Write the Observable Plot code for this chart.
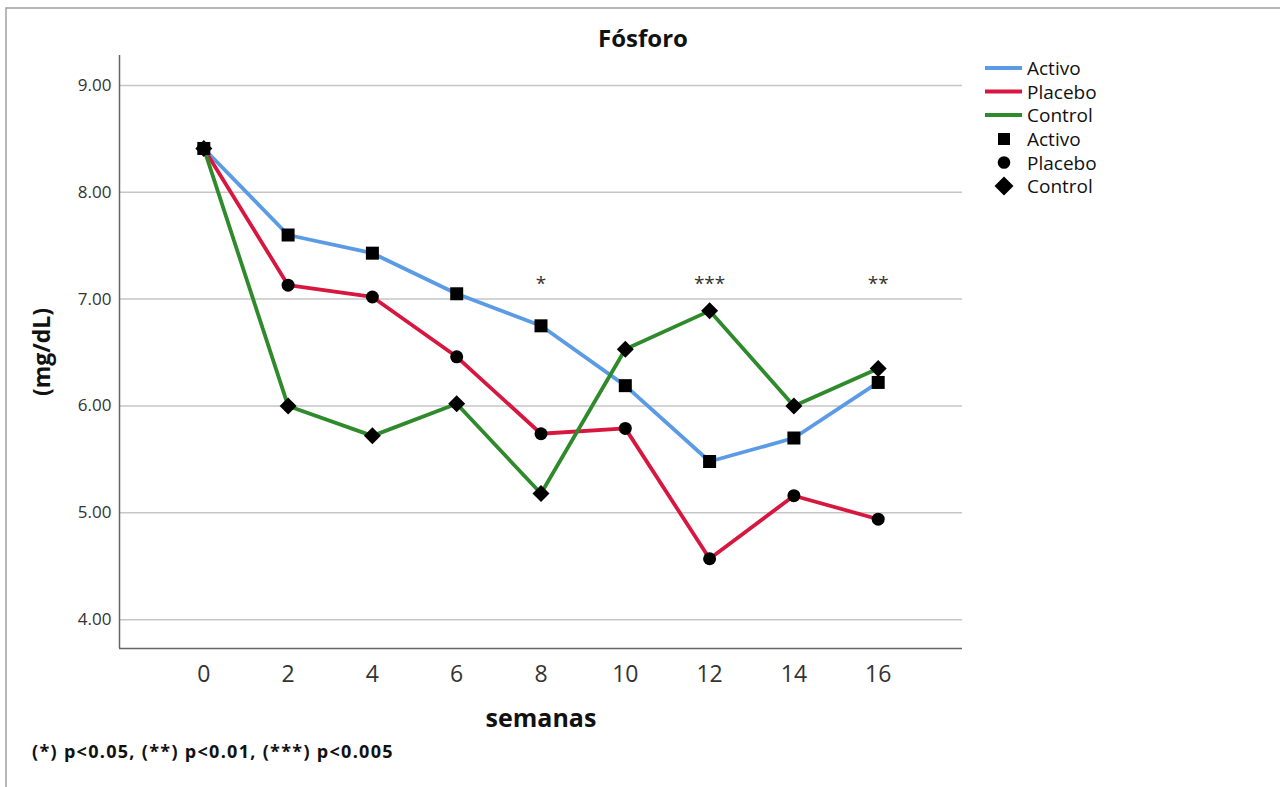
<!DOCTYPE html>
<html>
<head>
<meta charset="utf-8">
<script src="https://cdn.jsdelivr.net/npm/d3@7"></script>
<script src="https://cdn.jsdelivr.net/npm/@observablehq/plot@0.6"></script>
<style>
  body { margin: 0; background: #fff; }
  #fig { position: relative; width: 1280px; height: 787px; overflow: hidden; font-family: "Open Sans", sans-serif; }
  #fig svg { position: absolute; left: 0; top: 0; }
</style>
</head>
<body>
<div id="fig"></div>
<script>
// Serum phosphorus (mg/dL) by week for each study group
const weeks = [0, 2, 4, 6, 8, 10, 12, 14, 16];
const activo = [8.41, 7.60, 7.43, 7.05, 6.75, 6.19, 5.48, 5.70, 6.22];
const placebo = [8.41, 7.13, 7.02, 6.46, 5.74, 5.79, 4.57, 5.16, 4.94];
const control = [8.41, 6.00, 5.72, 6.02, 5.18, 6.53, 6.89, 6.00, 6.35];
const significance = ["", "", "", "", "*", "", "***", "", "**"];
const yTicks = [4, 5, 6, 7, 8, 9];
const groups = ["Activo", "Placebo", "Control"];
const colors = ["#5b9be6", "#d7173f", "#2f8a2c"];
const xDomain = [-2, 18];
const yDomain = [3.73, 9.28];
const sigLevel = 7.14;

const rows = weeks.map((w, i) => ({
  week: w, activo: activo[i], placebo: placebo[i], control: control[i], sig: significance[i]
}));

// marker shapes: r is half the side (square) or half the diagonal (diamond)
const squareSym = { draw(ctx, size) { const r = Math.sqrt(size / Math.PI); ctx.rect(-r, -r, 2 * r, 2 * r); } };
const diamondSym = { draw(ctx, size) {
  const r = Math.sqrt(size / Math.PI);
  ctx.moveTo(0, -r); ctx.lineTo(r, 0); ctx.lineTo(0, r); ctx.lineTo(-r, 0); ctx.closePath();
} };

const W = 1280, H = 787;
const chart = Plot.plot({
  width: W, height: H,
  marginLeft: 119, marginRight: 318, marginTop: 55, marginBottom: 139,
  style: { fontFamily: '"Open Sans", sans-serif', background: "transparent", color: "#333", overflow: "visible" },
  x: { domain: xDomain },
  y: { domain: yDomain },
  marks: [
    Plot.gridY(yTicks, { stroke: "#c6c6c6", strokeOpacity: 1, strokeWidth: 1.5 }),
    Plot.axisY(yTicks, { tickSize: 0, tickPadding: 8, tickFormat: d3.format(".2f"), fontSize: 17, label: null }),
    Plot.axisX(weeks, { tickSize: 0, tickPadding: 17, fontSize: 23, label: null }),
    Plot.ruleX([xDomain[0]], { stroke: "#666", strokeWidth: 1.5 }),
    Plot.ruleY([yDomain[0]], { stroke: "#666", strokeWidth: 1.5 }),
    Plot.line(rows, { x: "week", y: "activo", stroke: colors[0], strokeWidth: 3.8 }),
    Plot.line(rows, { x: "week", y: "placebo", stroke: colors[1], strokeWidth: 3.8 }),
    Plot.line(rows, { x: "week", y: "control", stroke: colors[2], strokeWidth: 3.8 }),
    Plot.dot(rows, { x: "week", y: "activo", symbol: squareSym, r: 6.5, fill: "#000", stroke: null }),
    Plot.dot(rows, { x: "week", y: "placebo", symbol: "circle", r: 6.5, fill: "#000", stroke: null }),
    Plot.dot(rows, { x: "week", y: "control", symbol: diamondSym, r: 8.5, fill: "#000", stroke: null }),
    Plot.text(rows.filter(d => d.sig), {
      x: "week", y: () => sigLevel, text: "sig", fontSize: 19, fill: "#333",
      lineAnchor: "middle", style: "letter-spacing: 1.5px"
    })
  ]
});
document.getElementById("fig").appendChild(chart);

// titles, legend and footnote
const svg = d3.select("#fig").append("svg").attr("width", W).attr("height", H)
  .style("font-family", '"Open Sans", sans-serif');

svg.append("path").attr("d", `M${W},8 H6 V${H}`).attr("fill", "none").attr("stroke", "#a0a0a0").attr("stroke-width", 1.5);

svg.append("text").attr("x", 643).attr("y", 47).attr("text-anchor", "middle")
  .attr("font-size", 24).attr("font-weight", "bold").attr("fill", "#111").text("Fósforo");

svg.append("text").attr("transform", "translate(50,352) rotate(-90)").attr("text-anchor", "middle")
  .attr("font-size", 23).attr("font-weight", "bold").attr("fill", "#111").text("(mg/dL)");

svg.append("text").attr("x", 541).attr("y", 727).attr("text-anchor", "middle")
  .attr("font-size", 25).attr("font-weight", "bold").attr("fill", "#111").text("semanas");

svg.append("text").attr("x", 32).attr("y", 758)
  .attr("font-size", 18).attr("font-weight", "bold").attr("fill", "#111")
  .attr("letter-spacing", 1.3)
  .text("(*) p<0.05, (**) p<0.01, (***) p<0.005");

const leg = svg.append("g").attr("font-size", 19).attr("fill", "#111");
const lineRows = [68, 91.5, 115];
const symRows = [139, 162.5, 186];
groups.forEach((g, i) => {
  leg.append("line").attr("x1", 985).attr("x2", 1022).attr("y1", lineRows[i]).attr("y2", lineRows[i])
    .attr("stroke", colors[i]).attr("stroke-width", 4);
  leg.append("text").attr("x", 1027).attr("y", lineRows[i] + 7).text(g);
  leg.append("text").attr("x", 1027).attr("y", symRows[i] + 7).text(g);
});
leg.append("rect").attr("x", 998).attr("y", symRows[0] - 6).attr("width", 12).attr("height", 12).attr("fill", "#000");
leg.append("circle").attr("cx", 1004).attr("cy", symRows[1]).attr("r", 6.3).attr("fill", "#000");
leg.append("path").attr("transform", `translate(1004,${symRows[2]})`)
  .attr("d", "M0,-9.5L9.5,0L0,9.5L-9.5,0Z").attr("fill", "#000");
</script>
</body>
</html>
